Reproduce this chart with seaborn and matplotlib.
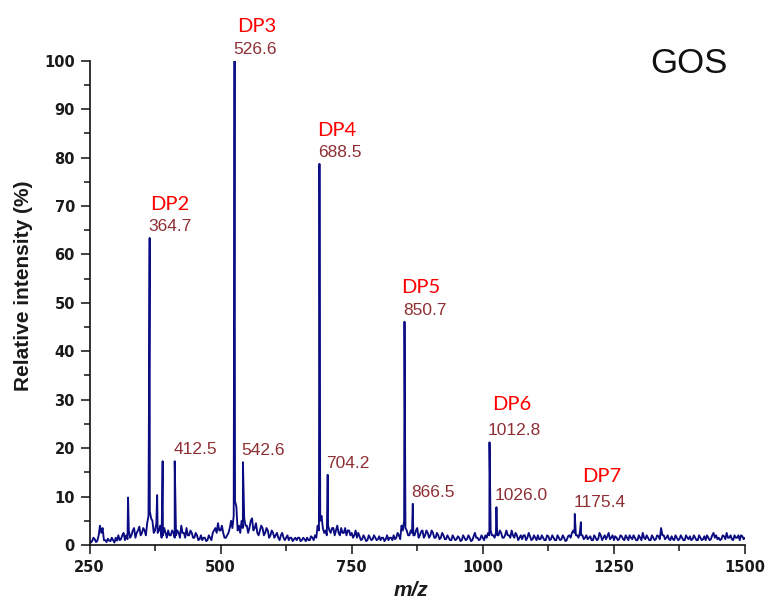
import numpy as np
import pandas as pd
import matplotlib
matplotlib.use("Agg")
import matplotlib.pyplot as plt
from matplotlib.ticker import MultipleLocator
import seaborn as sns

# ---------------- data ----------------
# baseline (noise) read every 5 m/z from 250 to 1500
baseline_mz = np.arange(250, 1501, 5)
baseline_int = [
    1.0, 0.8, 1.2, 0.9, 4.0, 3.5, 1.0, 1.3, 0.8, 1.0,   # 250
    1.5, 2.0, 1.2, 2.5, 2.0, 3.0, 2.0, 3.5, 2.5, 3.8,   # 300
    2.5, 3.0, 4.5, 7.0, 5.0, 3.0, 2.5, 4.0, 2.0, 2.5,   # 350
    3.0, 2.0, 2.5, 2.0, 2.5, 4.0, 2.5, 3.5, 2.0, 2.5,   # 400
    1.5, 2.0, 1.2, 1.0, 1.5, 1.0, 1.5, 2.5, 3.5, 4.5,   # 450
    3.0, 2.5, 1.5, 2.5, 5.0, 6.0, 8.0, 4.0, 5.0, 5.5,   # 500
    4.0, 3.5, 5.5, 3.5, 2.5, 3.0, 3.5, 2.5, 3.0, 2.0,   # 550
    2.5, 2.0, 1.5, 2.0, 1.5, 1.5, 1.0, 1.5, 1.2, 1.0,   # 600
    1.5, 1.0, 1.2, 1.5, 1.0, 1.5, 2.0, 4.0, 5.0, 3.5,   # 650
    3.0, 4.0, 2.5, 3.5, 3.0, 2.5, 3.5, 2.5, 2.0, 3.0,   # 700
    2.5, 2.0, 1.5, 1.8, 1.2, 1.5, 1.0, 1.5, 1.2, 1.5,   # 750
    1.2, 1.0, 1.5, 1.2, 1.0, 1.5, 2.0, 1.5, 2.0, 4.0,   # 800
    5.0, 3.0, 2.0, 2.5, 2.0, 3.5, 2.0, 3.0, 2.0, 2.5,   # 850
    2.0, 2.5, 1.5, 2.0, 1.5, 2.0, 1.2, 1.5, 1.0, 1.5,   # 900
    1.2, 1.5, 1.0, 1.5, 1.2, 1.5, 1.0, 2.5, 1.5, 1.2,   # 950
    1.5, 2.0, 2.5, 3.0, 2.0, 2.5, 2.0, 2.5, 1.5, 3.0,   # 1000
    2.0, 3.0, 1.5, 2.0, 1.5, 1.2, 2.0, 1.5, 1.8, 1.2,   # 1050
    1.5, 2.0, 1.2, 1.5, 1.0, 1.8, 1.2, 1.5, 1.0, 1.5,   # 1100
    1.2, 1.5, 1.0, 2.0, 2.5, 2.5, 2.0, 2.5, 2.0, 1.5,   # 1150
    1.2, 1.8, 1.0, 1.5, 1.2, 2.0, 1.5, 1.2, 2.5, 1.5,   # 1200
    1.0, 1.5, 1.2, 1.8, 1.0, 1.5, 2.0, 1.2, 1.5, 1.0,   # 1250
    1.5, 2.5, 1.2, 1.5, 1.0, 1.5, 1.2, 1.8, 3.5, 2.0,   # 1300
    1.5, 1.2, 1.8, 1.0, 1.5, 1.2, 1.5, 1.0, 1.5, 1.8,   # 1350
    1.2, 1.5, 1.0, 1.5, 1.2, 1.0, 1.5, 1.2, 2.5, 2.0,   # 1400
    1.5, 1.2, 1.8, 2.5, 1.5, 1.2, 2.0, 1.5, 1.0, 1.8,   # 1450
    1.5,                                                # 1500
]

# intermediate noise readings at 252.5, 257.5, ... 1497.5
baseline_mid_mz = np.arange(252.5, 1500, 5)
baseline_mid_int = [
    0.5, 1.5, 0.6, 2.0, 2.5, 1.0, 0.6, 0.9, 1.5, 0.5,   # 252.5
    0.9, 1.0, 2.0, 1.0, 1.2, 1.5, 3.0, 1.5, 3.0, 2.0,   # 302.5
    3.5, 2.0, 6.0, 5.5, 2.5, 4.5, 3.0, 1.5, 3.5, 1.5,   # 352.5
    2.0, 3.0, 1.5, 3.0, 1.5, 2.5, 1.5, 2.0, 3.0, 1.5,   # 402.5
    2.5, 1.0, 2.0, 1.5, 0.8, 2.0, 1.0, 3.0, 2.5, 3.0,   # 452.5
    4.0, 1.5, 2.0, 3.5, 3.5, 9.0, 3.0, 2.5, 3.5, 4.0,   # 502.5
    2.5, 5.0, 3.0, 4.5, 2.0, 4.0, 2.0, 3.5, 1.5, 3.0,   # 552.5
    1.5, 2.5, 1.0, 2.5, 1.0, 2.0, 1.5, 0.8, 1.5, 1.5,   # 602.5
    0.8, 1.5, 0.8, 1.0, 1.8, 1.0, 1.5, 3.0, 6.0, 2.5,   # 652.5
    2.0, 3.0, 3.5, 2.0, 4.0, 2.0, 2.5, 3.5, 3.0, 2.0,   # 702.5
    1.5, 3.0, 2.5, 1.0, 2.0, 0.8, 2.0, 1.0, 2.0, 1.0,   # 752.5
    1.8, 1.5, 0.8, 2.0, 1.5, 1.0, 1.2, 2.5, 1.2, 3.0,   # 802.5
    3.5, 2.0, 3.0, 2.0, 3.0, 1.5, 2.8, 1.5, 3.0, 1.5,   # 852.5
    3.0, 1.5, 2.5, 1.2, 2.5, 1.2, 2.0, 1.0, 2.0, 1.0,   # 902.5
    1.8, 0.8, 2.0, 1.0, 2.0, 0.8, 1.8, 1.5, 1.0, 2.0,   # 952.5
    1.0, 1.5, 2.0, 2.0, 1.5, 2.0, 3.0, 1.5, 2.0, 2.0,   # 1002.5
    1.5, 2.0, 2.5, 1.0, 2.0, 2.0, 1.0, 2.5, 1.0, 2.0,   # 1052.5
    1.0, 1.2, 2.0, 1.0, 2.0, 1.0, 2.0, 1.0, 2.0, 1.0,   # 1102.5
    2.0, 0.8, 1.8, 1.5, 3.0, 2.0, 1.5, 2.0, 1.2, 2.0,   # 1152.5
    1.5, 1.0, 2.0, 1.0, 2.5, 1.0, 2.0, 1.8, 1.2, 2.0,   # 1202.5
    1.8, 1.0, 2.0, 1.2, 2.0, 1.0, 1.5, 2.0, 1.0, 2.0,   # 1252.5
    1.0, 1.5, 2.0, 1.0, 2.0, 1.0, 2.0, 1.2, 2.0, 1.2,   # 1302.5
    2.0, 1.0, 1.2, 2.0, 1.0, 2.0, 1.0, 2.0, 1.2, 1.0,   # 1352.5
    2.0, 1.0, 2.0, 1.0, 1.8, 2.0, 1.0, 2.0, 1.5, 1.2,   # 1402.5
    1.0, 2.0, 1.2, 1.5, 2.0, 1.0, 1.5, 2.0, 2.0, 1.2,   # 1452.5
]

# peak apexes
peak_mz = [323.5, 364.7, 379.0, 389.5, 412.5, 526.6, 542.6, 688.5, 704.2,
           850.7, 866.5, 1012.8, 1026.0, 1175.4, 1187.0]
peak_int = [9.8, 63.4, 10.3, 17.3, 17.3, 100.0, 17.1, 78.7, 14.5,
            46.1, 8.5, 21.2, 7.8, 6.4, 4.7]

# labelled peaks (m/z values)
mz_labels = ["364.7", "412.5", "526.6", "542.6", "688.5", "704.2",
             "850.7", "866.5", "1012.8", "1026.0", "1175.4"]
mz_label_pos = [364.7, 412.5, 526.6, 542.6, 688.5, 704.2,
                850.7, 866.5, 1012.8, 1026.0, 1175.4]

dp_names = ["DP2", "DP3", "DP4", "DP5", "DP6", "DP7"]
dp_mz = [364.7, 526.6, 688.5, 850.7, 1012.8, 1175.4]

# ---------------- styling (kept apart from data) ----------------
dp_offsets_px = [(0, 28), (3, 28.5), (-2.5, 27.5), (-3.5, 29), (3, 32), (7.5, 32)]
num_offset_px = (-1.5, 7)

# combine baseline and peaks into one spectrum table
df = pd.DataFrame({
    "mz": np.concatenate([baseline_mz, baseline_mid_mz, peak_mz]),
    "intensity": np.concatenate([baseline_int, baseline_mid_int, peak_int]),
}).sort_values("mz").reset_index(drop=True)
peak_lookup = dict(zip(peak_mz, peak_int))

sns.set_style("ticks")
plt.rcParams["font.family"] = ["Liberation Sans", "DejaVu Sans"]

fig = plt.figure(figsize=(7.69, 6.02), dpi=100)
ax = fig.add_axes([89.5 / 769, 1 - 545 / 602, (745 - 89.5) / 769, (545 - 60.7) / 602])

sns.lineplot(data=df, x="mz", y="intensity", ax=ax, estimator=None, sort=True,
             color="#0b0b82", linewidth=1.35)

ax.set_xlim(250, 1500)
ax.set_ylim(0, 100)
ax.xaxis.set_major_locator(MultipleLocator(250))
ax.xaxis.set_minor_locator(MultipleLocator(125))
ax.yaxis.set_major_locator(MultipleLocator(10))
ax.yaxis.set_minor_locator(MultipleLocator(5))

for s in ["top", "right"]:
    ax.spines[s].set_visible(False)
for s in ["left", "bottom"]:
    ax.spines[s].set_linewidth(1.2)
    ax.spines[s].set_color("#111111")

ax.tick_params(axis="both", which="major", direction="out", length=6.5, width=1.1,
               color="#111111", pad=4)
ax.tick_params(axis="both", which="minor", direction="out", length=4.3, width=1.1,
               color="#111111")
for lab in ax.get_xticklabels() + ax.get_yticklabels():
    lab.set_fontfamily("DejaVu Sans")
    lab.set_fontweight("bold")
    lab.set_fontsize(10.5)
    lab.set_color("#1a1a1a")

ax.set_xlabel("m/z", fontsize=15, fontweight="bold", fontstyle="italic",
              color="#1a1a1a", va="center")
ax.xaxis.set_label_coords(0.49, -0.093)
ax.set_ylabel("Relative intensity (%)", fontsize=15, fontweight="bold",
              color="#1a1a1a", va="center")
ax.yaxis.set_label_coords(-0.1, 0.535)

# m/z labels
for txt, pos in zip(mz_labels, mz_label_pos):
    ax.annotate(txt, xy=(pos, peak_lookup[pos]), xytext=num_offset_px,
                textcoords="offset pixels", ha="left", va="baseline",
                fontsize=12.5, color="#8e2f34", annotation_clip=False)

# DP labels
for name, pos, off in zip(dp_names, dp_mz, dp_offsets_px):
    ax.annotate(name, xy=(pos, peak_lookup[pos]), xytext=off,
                textcoords="offset pixels", ha="left", va="baseline",
                fontsize=14.5, color="#ff0000", fontfamily="Lato",
                annotation_clip=False)

fig.text(650 / 769, 1 - 73 / 602, "GOS", fontsize=25, color="#111111",
         ha="left", va="baseline")

fig.savefig("out.png", dpi=100)
